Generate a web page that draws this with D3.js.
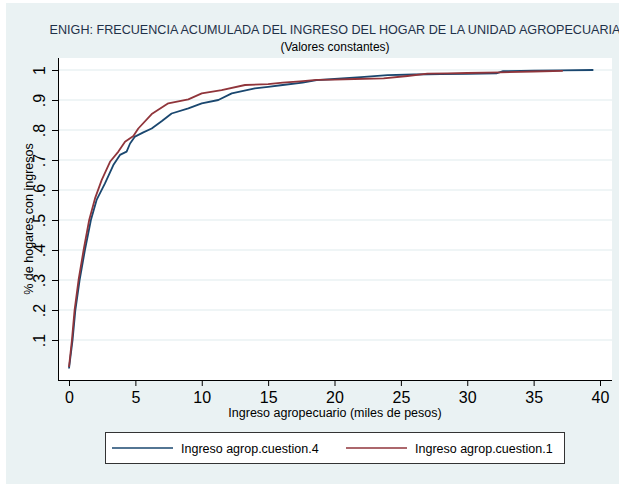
<!DOCTYPE html>
<html>
<head>
<meta charset="utf-8">
<script src="https://cdn.jsdelivr.net/npm/d3@7"></script>
<style>
    body { margin: 0; background: #fff; }
    svg { display: block; font-family: Arial, "Liberation Sans", sans-serif; }
    .tick-label { font-size: 16px; fill: #000; }
    .axis-title { font-size: 12.5px; fill: #000; }
    .legend-label { font-size: 12.5px; fill: #000; }
</style>
</head>
<body>
<div id="chart"></div>
<script>
// Ingreso agrop.cuestion.4 (miles de pesos, frecuencia acumulada)
const seriesAX = [0, 0.27, 0.48, 0.8, 1.2, 1.65, 2.08, 2.71, 3.34, 3.84, 4.34, 4.6, 4.97, 5.6, 6.23, 7.0, 7.73, 8.99, 10.0, 11.25, 12.26, 14.0, 15.0, 16.1, 17.6, 18.65, 20.0, 22.0, 24.0, 26.0, 28.0, 30.0, 32.2, 32.7, 35.0, 37.0, 39.5];
const seriesAY = [0.005, 0.1, 0.2, 0.3, 0.4, 0.5, 0.567, 0.622, 0.683, 0.717, 0.728, 0.755, 0.778, 0.792, 0.805, 0.83, 0.855, 0.872, 0.889, 0.90, 0.922, 0.939, 0.944, 0.95, 0.958, 0.966, 0.970, 0.976, 0.983, 0.985, 0.986, 0.987, 0.989, 0.996, 0.998, 0.999, 1.0];

// Ingreso agrop.cuestion.1
const seriesBX = [0, 0.22, 0.42, 0.72, 1.1, 1.52, 1.96, 2.46, 3.09, 3.72, 4.22, 4.85, 5.22, 6.23, 7.48, 8.99, 10.0, 11.5, 13.26, 15.0, 16.1, 17.4, 18.65, 20.0, 21.5, 23.7, 25.5, 27.0, 28.5, 30.0, 32.5, 35.0, 37.2];
const seriesBY = [0.01, 0.1, 0.2, 0.3, 0.4, 0.5, 0.572, 0.633, 0.694, 0.728, 0.761, 0.78, 0.805, 0.853, 0.889, 0.902, 0.922, 0.933, 0.95, 0.953, 0.958, 0.962, 0.967, 0.968, 0.970, 0.972, 0.980, 0.988, 0.989, 0.990, 0.992, 0.995, 0.997];

const seriesNames = ['Ingreso agrop.cuestion.4', 'Ingreso agrop.cuestion.1'];
const xTicks = [0, 5, 10, 15, 20, 25, 30, 35, 40];
const yTicks = [0.1, 0.2, 0.3, 0.4, 0.5, 0.6, 0.7, 0.8, 0.9, 1];
const yTickLabels = ['.1', '.2', '.3', '.4', '.5', '.6', '.7', '.8', '.9', '1'];

const titleText = 'ENIGH: FRECUENCIA ACUMULADA DEL INGRESO DEL HOGAR DE LA UNIDAD AGROPECUARIA';
const subtitleText = '(Valores constantes)';
const xTitle = 'Ingreso agropecuario (miles de pesos)';
const yTitle = '% de hogares con ingresos';

const config = {
    width: 619,
    height: 484,
    margin: {top: 58, right: 7, bottom: 104, left: 58},
    colors: ['#1a476f', '#90353b']
};

const svg = d3.select('#chart').append('svg')
    .attr('width', config.width)
    .attr('height', config.height);

// Outer Stata-like background
svg.append('rect')
    .attr('x', 6).attr('y', 3)
    .attr('width', config.width - 6)
    .attr('height', config.height - 3)
    .attr('fill', '#eaf2f3');

const innerW = config.width - config.margin.left - config.margin.right;
const innerH = config.height - config.margin.top - config.margin.bottom;

const chart = svg.append('g')
    .attr('transform', `translate(${config.margin.left},${config.margin.top})`);

chart.append('rect')
    .attr('width', innerW)
    .attr('height', innerH)
    .attr('fill', '#fff');

// Scales: 0 sits 11px inside the plot, 40 at 542px
const xScale = d3.scaleLinear()
    .domain([0, 40])
    .range([11, 542]);

const yScale = d3.scaleLinear()
    .domain([0, 1])
    .range([312, 12]);

// Gridlines
chart.selectAll('.grid')
    .data(yTicks)
    .join('line')
    .attr('class', 'grid')
    .attr('x1', 0)
    .attr('x2', innerW)
    .attr('y1', d => yScale(d))
    .attr('y2', d => yScale(d))
    .attr('stroke', '#eaf2f3')
    .attr('stroke-width', 1.5);

// Axes
const xAxis = d3.axisBottom(xScale)
    .tickValues(xTicks)
    .tickSize(6)
    .tickPadding(6)
    .tickFormat(d3.format('d'));

const yAxis = d3.axisLeft(yScale)
    .tickValues(yTicks)
    .tickSize(6)
    .tickFormat((d, i) => yTickLabels[i]);

const xAxisG = chart.append('g')
    .attr('transform', `translate(0,${innerH})`)
    .call(xAxis);
xAxisG.select('.domain').attr('d', `M0,0.5H${innerW}`);

const yAxisG = chart.append('g')
    .call(yAxis);
yAxisG.select('.domain').attr('d', `M0.5,0V${innerH}`);

chart.selectAll('.domain, .tick line')
    .attr('stroke', '#000')
    .attr('stroke-width', 1);

xAxisG.selectAll('text')
    .attr('class', 'tick-label')
    .attr('font-family', null)
    .attr('font-size', null);

// Vertical y labels, reading bottom to top
yAxisG.selectAll('text')
    .attr('class', 'tick-label')
    .attr('font-family', null)
    .attr('font-size', null)
    .attr('x', null)
    .attr('dy', null)
    .attr('text-anchor', 'middle')
    .attr('transform', 'translate(-13,0) rotate(-90)');

// Lines
const line = d3.line()
    .x(d => xScale(d[0]))
    .y(d => yScale(d[1]));

const series = [
    d3.zip(seriesAX, seriesAY),
    d3.zip(seriesBX, seriesBY)
];

chart.selectAll('.series')
    .data(series)
    .join('path')
    .attr('class', 'series')
    .attr('d', line)
    .attr('fill', 'none')
    .attr('stroke', (d, i) => config.colors[i])
    .attr('stroke-width', 1.8)
    .attr('stroke-linejoin', 'round');

// Titles
const cx = config.margin.left + innerW / 2;

svg.append('text')
    .attr('x', cx).attr('y', 34)
    .attr('text-anchor', 'middle')
    .attr('font-size', '12.6px')
    .attr('fill', '#1f3149')
    .text(titleText);

svg.append('text')
    .attr('x', cx).attr('y', 51)
    .attr('text-anchor', 'middle')
    .attr('font-size', '12px')
    .attr('fill', '#000')
    .text(subtitleText);

svg.append('text')
    .attr('class', 'axis-title')
    .attr('x', cx).attr('y', 417)
    .attr('text-anchor', 'middle')
    .text(xTitle);

svg.append('text')
    .attr('class', 'axis-title')
    .attr('text-anchor', 'middle')
    .attr('transform', `translate(33,${config.margin.top + innerH / 2}) rotate(-90)`)
    .text(yTitle);

// Legend
const legend = svg.append('g');

legend.append('rect')
    .attr('x', 105.5).attr('y', 432.5)
    .attr('width', 459).attr('height', 31)
    .attr('fill', '#fff')
    .attr('stroke', '#333')
    .attr('stroke-width', 1);

const legendX = [112, 346];

seriesNames.forEach((name, i) => {
    legend.append('line')
        .attr('x1', legendX[i]).attr('x2', legendX[i] + 61)
        .attr('y1', 448).attr('y2', 448)
        .attr('stroke', config.colors[i])
        .attr('stroke-width', 1.5);
    legend.append('text')
        .attr('class', 'legend-label')
        .attr('x', legendX[i] + 69)
        .attr('y', 452.5)
        .text(name);
});
</script>
</body>
</html>
